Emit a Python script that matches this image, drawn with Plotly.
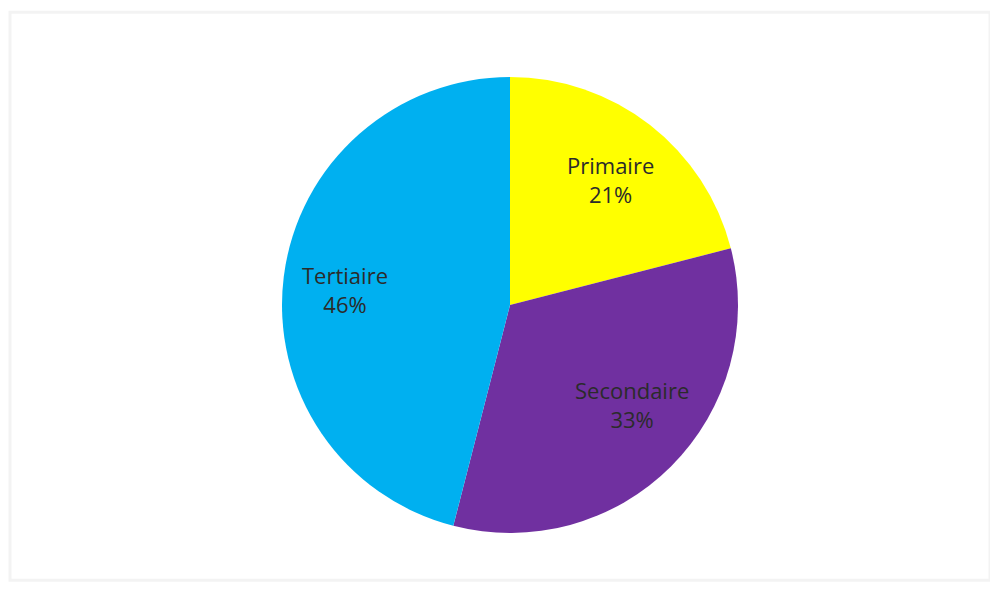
import math
import plotly.graph_objects as go

secteurs = ["Primaire", "Secondaire", "Tertiaire"]
parts = [21, 33, 46]
couleurs = ["#FFFF00", "#7030A0", "#00B0F0"]

W, H = 998, 590
cx, cy, R = 502, 297, 228  # centre et rayon du camembert (px)

fig = go.Figure(go.Pie(
    labels=secteurs,
    values=parts,
    sort=False,
    direction="clockwise",
    rotation=0,
    marker=dict(colors=couleurs, line=dict(width=0)),
    textinfo="none",
    domain=dict(x=[(cx - R) / W, (cx + R) / W], y=[1 - (cy + R) / H, 1 - (cy - R) / H]),
    hoverinfo="label+percent",
    showlegend=False,
))

# étiquettes placées à l'intérieur des parts, comme dans Excel
total = sum(parts)
cumul = 0
ecart = [0.705, 0.69, 0.727]      # distance au centre (fraction du rayon)
decalage = [1.1, -5.7, -2.0]      # petit ajustement d'angle (degrés)
for nom, v, k, d in zip(secteurs, parts, ecart, decalage):
    milieu = (cumul + v / 2) / total * 2 * math.pi + math.radians(d)
    cumul += v
    x = cx + k * R * math.sin(milieu)
    y = cy - k * R * math.cos(milieu)
    fig.add_annotation(
        x=x / W, y=1 - y / H, xref="paper", yref="paper",
        xanchor="center", yanchor="middle",
        text=f"{nom}<br>{v}%", showarrow=False,
        font=dict(family="Open Sans", size=22, color="#2b2b2b"),
    )

fig.add_shape(type="rect", xref="paper", yref="paper", x0=0.002, y0=0.03, x1=0.984, y1=0.993,
              line=dict(color="#f3f3f3", width=3))

fig.update_layout(
    width=W,
    height=H,
    margin=dict(l=0, r=0, t=0, b=0),
    paper_bgcolor="white",
    plot_bgcolor="white",
)

fig.write_html("out.html")
